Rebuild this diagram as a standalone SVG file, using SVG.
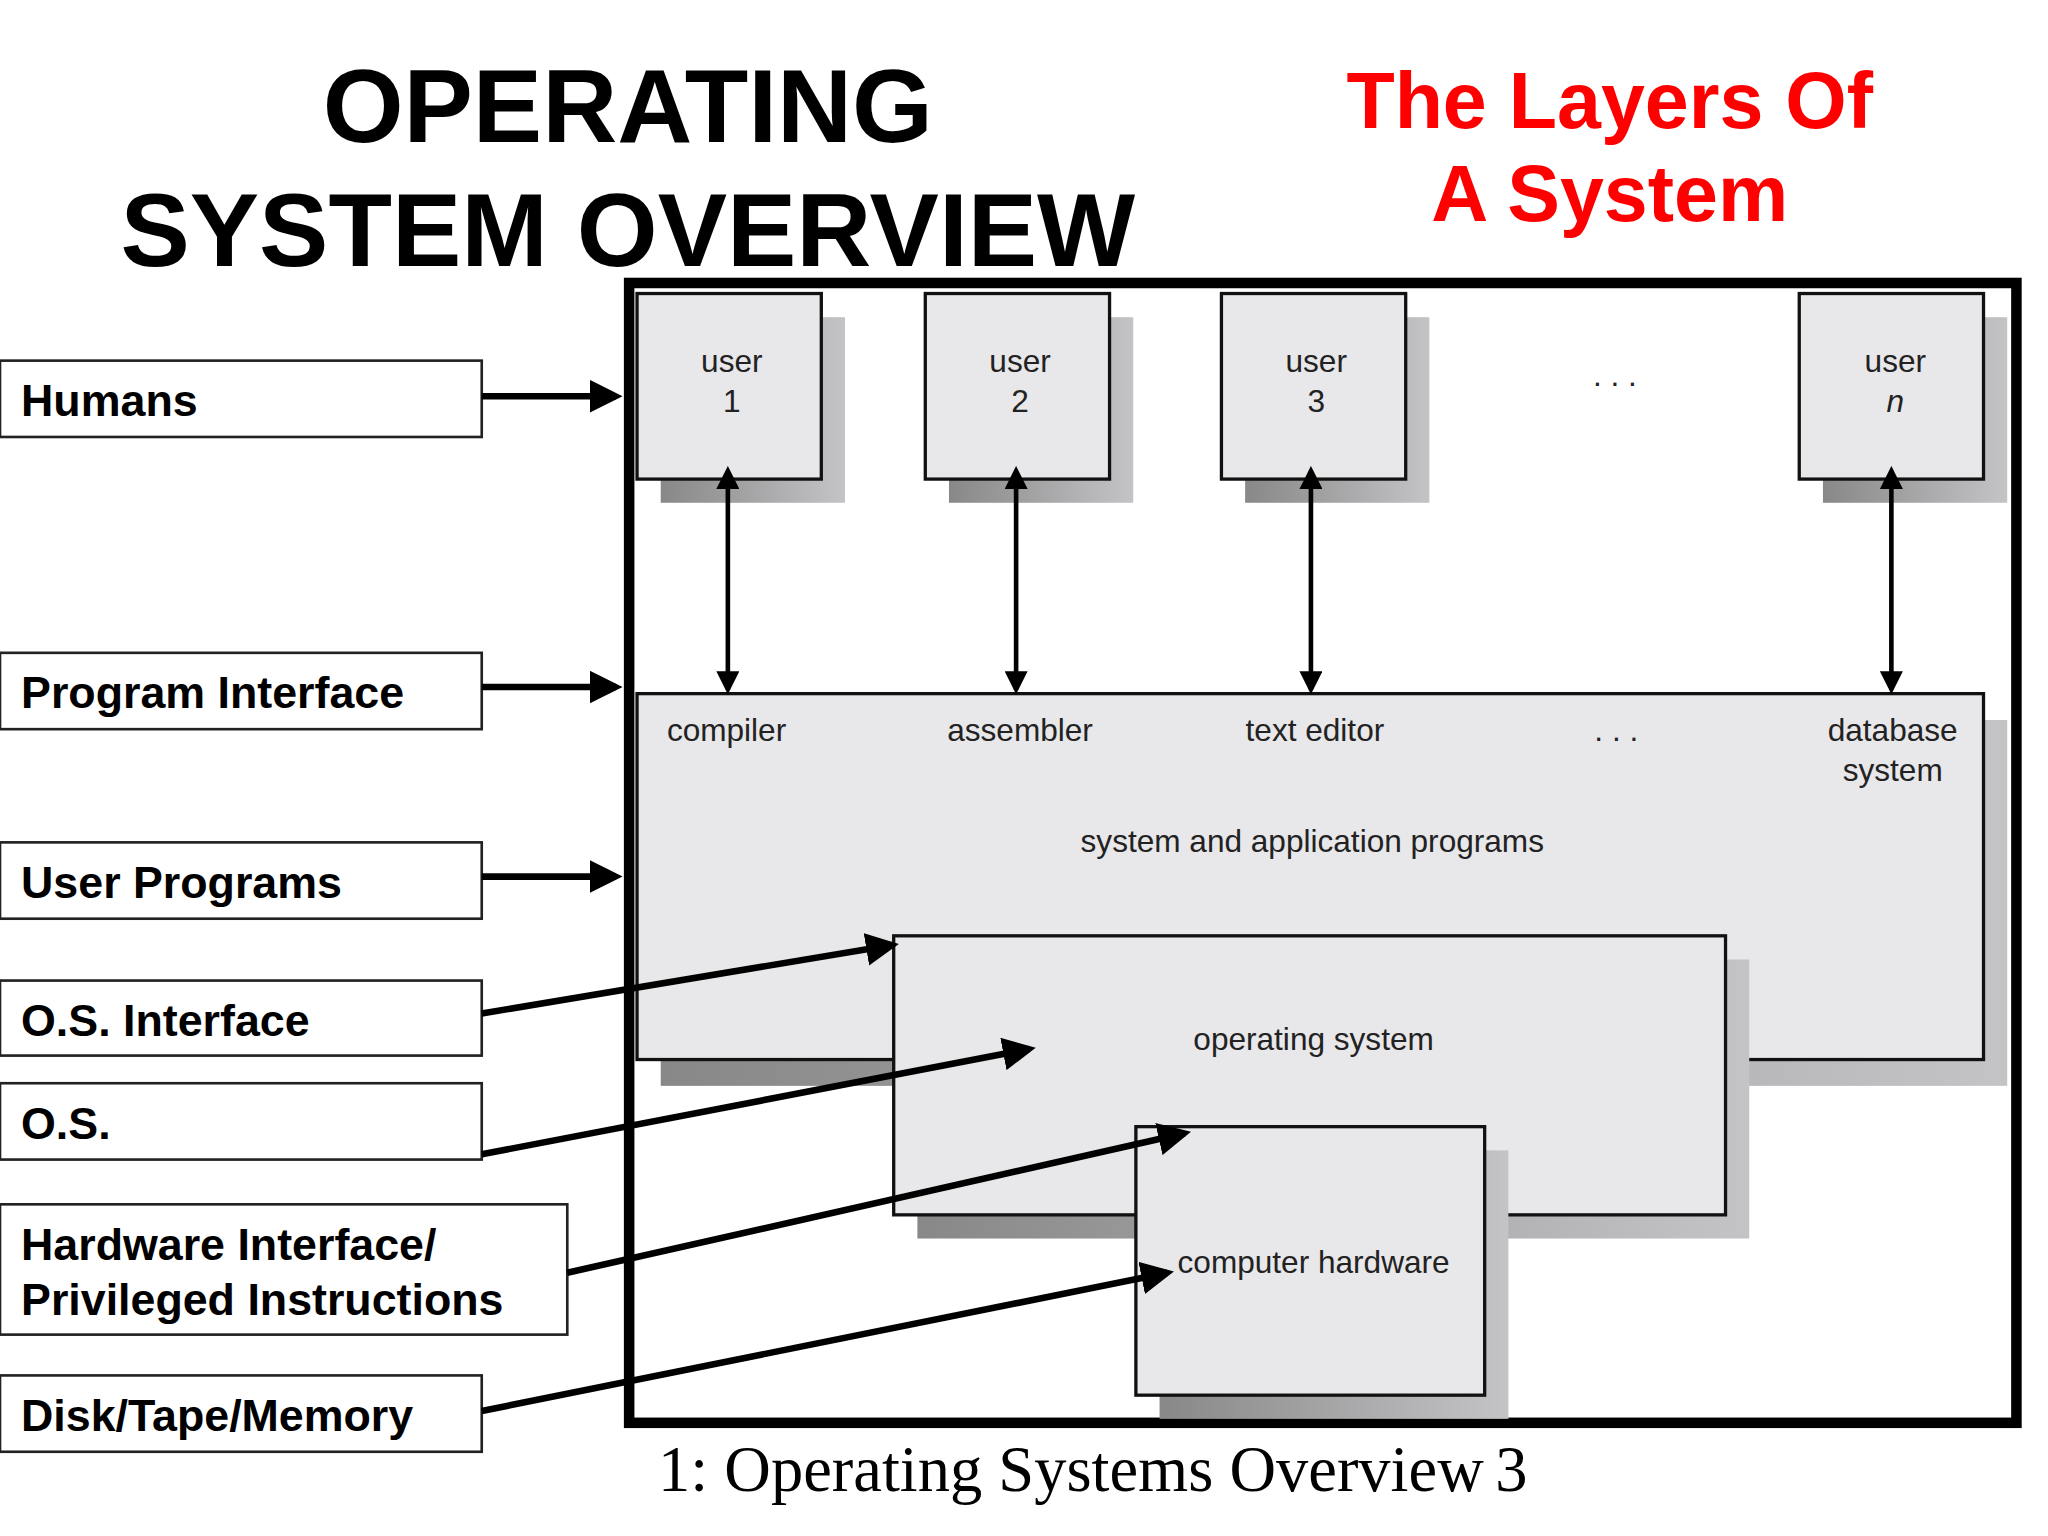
<svg xmlns="http://www.w3.org/2000/svg" width="2048" height="1536" viewBox="0 0 2048 1536">
<defs>
<style>
.lbl{font-family:"Liberation Sans",Arial,sans-serif;font-weight:bold;font-size:34px;fill:#000}
.in{font-family:"Liberation Sans",Arial,sans-serif;font-size:24px;fill:#222;text-anchor:middle}
.box{fill:#fff;stroke:#222;stroke-width:2}
.g{fill:#e8e7e9;stroke:#111;stroke-width:2.5}
.sh{fill:url(#shg)}
.ar{stroke:#000;stroke-width:5;fill:none;marker-end:url(#ah)}
.va{stroke:#000;stroke-width:3.5;fill:none;marker-end:url(#ah2);marker-start:url(#ah2s)}
</style>
<linearGradient id="shg" x1="0" y1="0" x2="1" y2="0"><stop offset="0" stop-color="#888"/><stop offset="1" stop-color="#c4c3c6"/></linearGradient>
<marker id="ah" markerWidth="5" markerHeight="5" refX="4" refY="2.5" orient="auto" markerUnits="strokeWidth"><path d="M0,0L5,2.5L0,5z" fill="#000"/></marker>
<marker id="ah2" markerWidth="5" markerHeight="5" refX="4" refY="2.5" orient="auto" markerUnits="strokeWidth"><path d="M0,0L5,2.5L0,5z" fill="#000"/></marker>
<marker id="ah2s" markerWidth="5" markerHeight="5" refX="1" refY="2.5" orient="auto-start-reverse" markerUnits="strokeWidth"><path d="M0,0L5,2.5L0,5z" fill="#000"/></marker>
</defs>
<rect width="2048" height="1536" fill="#fff"/>
<g transform="scale(1.3162)">
<g id="title" font-family="Liberation Sans,Arial,sans-serif" font-weight="bold" text-anchor="middle">
<text x="477" y="108" font-size="79">OPERATING</text>
<text x="477" y="202" font-size="79">SYSTEM OVERVIEW</text>
<text x="1223" y="97" font-size="60" fill="#f00">The Layers Of</text>
<text x="1223" y="168" font-size="60" fill="#f00">A System</text>
</g>
<rect id="frame" x="478" y="215" width="1054" height="866" fill="none" stroke="#000" stroke-width="8"/>
<g id="programs"><rect class="sh" x="502" y="547" width="1023" height="278"/><rect class="g" x="484" y="527" width="1023" height="278"/>
<text class="in" x="552" y="563">compiler</text><text class="in" x="775" y="563">assembler</text><text class="in" x="999" y="563">text editor</text><text class="in" x="1228" y="563">. . .</text>
<text class="in" x="1438" y="563">database</text><text class="in" x="1438" y="593">system</text>
<text class="in" x="997" y="647">system and application programs</text></g>
<g id="os"><rect class="sh" x="697" y="729" width="632" height="212"/><rect class="g" x="679" y="711" width="632" height="212"/><text class="in" x="998" y="798">operating system</text></g>
<g id="hw"><rect class="sh" x="881" y="874" width="265" height="204"/><rect class="g" x="863" y="856" width="265" height="204"/><text class="in" x="998" y="967">computer hardware</text></g>
<g id="user1"><rect class="sh" x="502" y="241" width="140" height="141"/><rect class="g" x="484" y="223" width="140" height="141"/><text class="in" x="556" y="283">user</text><text class="in" x="556" y="313">1</text></g>
<g id="user2"><rect class="sh" x="721" y="241" width="140" height="141"/><rect class="g" x="703" y="223" width="140" height="141"/><text class="in" x="775" y="283">user</text><text class="in" x="775" y="313">2</text></g>
<g id="user3"><rect class="sh" x="946" y="241" width="140" height="141"/><rect class="g" x="928" y="223" width="140" height="141"/><text class="in" x="1000" y="283">user</text><text class="in" x="1000" y="313">3</text></g>
<g id="usern"><rect class="sh" x="1385" y="241" width="140" height="141"/><rect class="g" x="1367" y="223" width="140" height="141"/><text class="in" x="1440" y="283">user</text><text class="in" x="1440" y="313" font-style="italic">n</text></g>
<text class="in" x="1227" y="293" font-size="30">. . .</text>
<g id="l1"><rect class="box" x="0" y="274" width="366" height="58"/><text class="lbl" x="16" y="316">Humans</text></g>
<g id="l2"><rect class="box" x="0" y="496" width="366" height="58"/><text class="lbl" x="16" y="538">Program Interface</text></g>
<g id="l3"><rect class="box" x="0" y="640" width="366" height="58"/><text class="lbl" x="16" y="682">User Programs</text></g>
<g id="l4"><rect class="box" x="0" y="745" width="366" height="57"/><text class="lbl" x="16" y="787">O.S. Interface</text></g>
<g id="l5"><rect class="box" x="0" y="823" width="366" height="58"/><text class="lbl" x="16" y="865">O.S.</text></g>
<g id="l6"><rect class="box" x="0" y="915" width="431" height="99"/><text class="lbl" x="16" y="957">Hardware Interface/</text><text class="lbl" x="16" y="999">Privileged Instructions</text></g>
<g id="l7"><rect class="box" x="0" y="1045" width="366" height="58"/><text class="lbl" x="16" y="1087">Disk/Tape/Memory</text></g>
<g id="connectors">
<line class="ar" x1="366" y1="301" x2="468" y2="301"/>
<line class="ar" x1="366" y1="522" x2="468" y2="522"/>
<line class="ar" x1="366" y1="666" x2="468" y2="666"/>
<line class="va" x1="553" y1="368" x2="553" y2="524"/>
<line class="va" x1="772" y1="368" x2="772" y2="524"/>
<line class="va" x1="996" y1="368" x2="996" y2="524"/>
<line class="va" x1="1437" y1="368" x2="1437" y2="524"/>
<line class="ar" x1="366" y1="770" x2="678" y2="718"/>
<line class="ar" x1="366" y1="877" x2="782" y2="797"/>
<line class="ar" x1="431" y1="967" x2="900" y2="861"/>
<line class="ar" x1="366" y1="1072" x2="887" y2="967"/>
</g>
<g id="footer" font-family="Liberation Serif,Times New Roman,serif" font-size="49">
<text x="500" y="1133">1: Operating Systems Overview</text>
<text x="1136" y="1133">3</text>
</g>
</g>
</svg>
